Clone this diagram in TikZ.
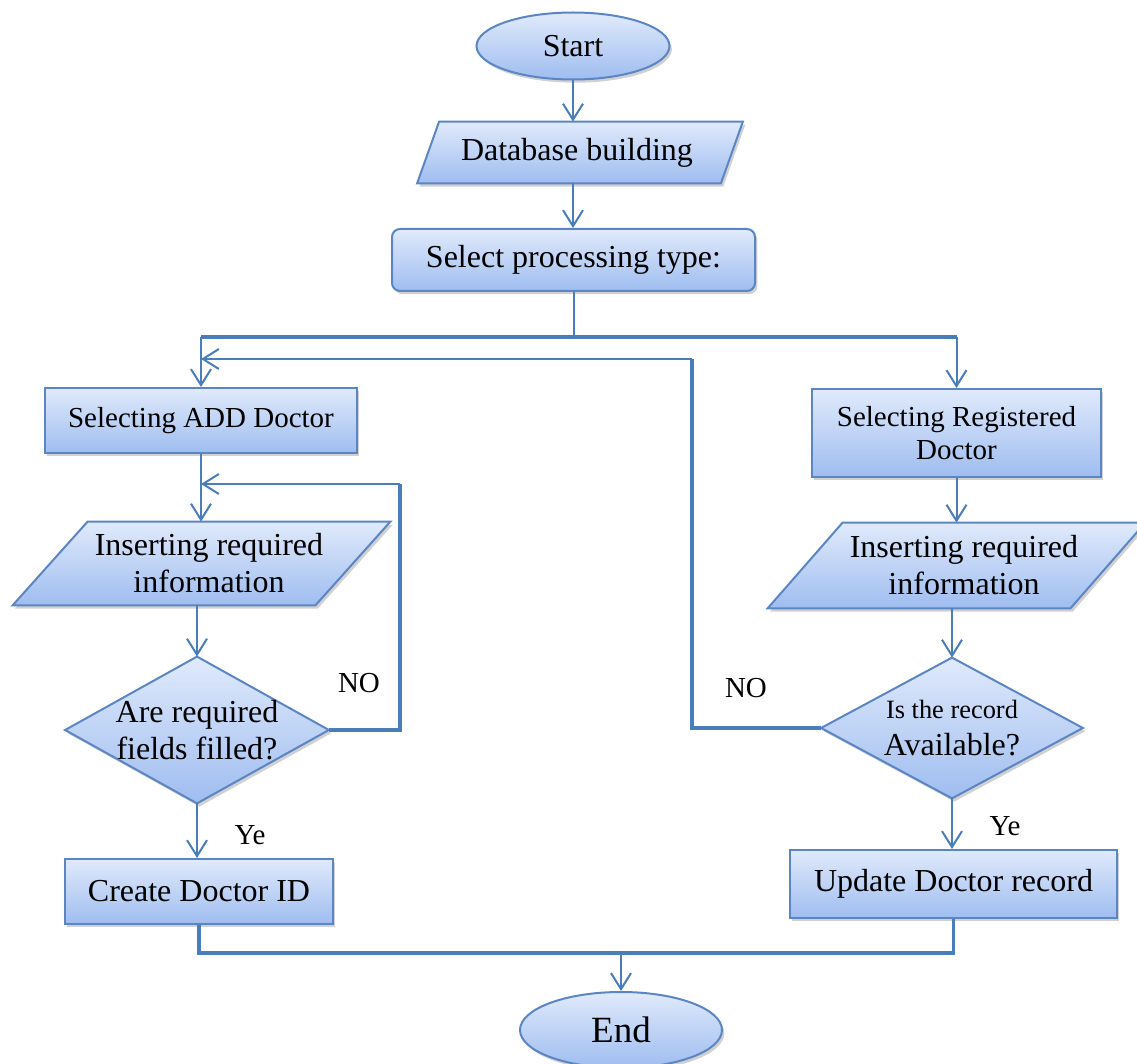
\documentclass[tikz,border=0pt]{standalone}
\usepackage{fontspec}
\setmainfont{Liberation Serif}
\usetikzlibrary{shapes.geometric,arrows.meta,calc,shadows}

\definecolor{edge}{HTML}{4A7EBB}
\definecolor{rim}{HTML}{5B86C3}
\definecolor{filltop}{HTML}{E0EAFB}
\definecolor{fillbot}{HTML}{9FBDF0}

\pgfdeclarelayer{background}
\pgfsetlayers{background,main}

\tikzset{
  boxfill/.style={draw=rim, line width=1pt, top color=filltop, bottom color=fillbot,
    drop shadow={shadow xshift=1.2pt, shadow yshift=-1.6pt, opacity=0.3, fill=black!60}},
  txt/.style={font=\fontsize{16}{18.5}\selectfont, align=center, inner sep=0pt},
  smalltxt/.style={font=\fontsize{14.5}{16.5}\selectfont},
  procbox/.style={boxfill, rectangle, txt},
  termbox/.style={boxfill, ellipse, txt},
  holder/.style={rectangle, txt},
  conn/.style={draw=edge, line width=1pt},
  arr/.style={conn, -{Straight Barb[length=8pt,width=10pt]}},
  bus/.style={draw=edge, line width=1.6pt},
  lbl/.style={font=\fontsize{14.5}{16}\selectfont, inner sep=0pt}
}

% slanted input/output outline around a holder node;
% #2 = half of the slant, #3 = horizontal offset of the outline from the text
\newcommand{\slantoutline}[3]{%
  \path[boxfill] ($(#1.north west)+(#2+#3,0)$) -- ($(#1.north east)+(#2+#3,0)$)
    -- ($(#1.south east)+(-#2+#3,0)$) -- ($(#1.south west)+(-#2+#3,0)$) -- cycle;}
% decision outline around a holder node
\newcommand{\decisionoutline}[1]{%
  \path[boxfill] (#1.north) -- (#1.east) -- (#1.south) -- (#1.west) -- cycle;}

\begin{document}
\begin{tikzpicture}[x=0.5pt,y=-0.5pt]
\useasboundingbox (0,0) rectangle (1137,1064);

% main column
\node[termbox, minimum width=96.5pt, minimum height=33.5pt] (start) at (573,46) {Start};
\node[holder, minimum width=151.5pt, minimum height=30.5pt] (db) at (577,152.5) {Database building};
\node[procbox, rounded corners=4pt, minimum width=181.5pt, minimum height=31pt] (sel) at (573.5,260) {Select processing type:};

% left branch: new doctor
\node[procbox, smalltxt, minimum width=156pt, minimum height=32.5pt] (add) at (201,420.5) {Selecting ADD Doctor};
\node[holder, minimum width=151pt, minimum height=41.5pt] (insA) at (209,563.5) {Inserting required\\information};
\node[holder, minimum width=131.5pt, minimum height=73pt] (qA) at (197,730) {Are required\\fields filled?};
\node[procbox, minimum width=134pt, minimum height=32.5pt] (create) at (199,891.5) {Create Doctor ID};

% right branch: registered doctor
\node[procbox, smalltxt, minimum width=144.5pt, minimum height=44pt] (reg) at (956.5,433) {Selecting Registered\\Doctor};
\node[holder, minimum width=151pt, minimum height=42.5pt] (insB) at (964,565.5) {Inserting required\\information};
\node[holder, minimum width=130.5pt, minimum height=70pt] (qB) at (952,728) {{\fontsize{13.2}{18.5}\selectfont Is the record}\\Available?};
\node[procbox, minimum width=163.5pt, minimum height=34pt] (upd) at (953.5,884) {Update Doctor record};

\node[termbox, font=\fontsize{18.5}{20}\selectfont, minimum width=101pt, minimum height=38pt] (end) at (621,1030) {End};

\begin{pgfonlayer}{background}
  \slantoutline{db}{11}{3}
  \slantoutline{insA}{37.5}{-7.5}
  \slantoutline{insB}{37.5}{-7.5}
  \decisionoutline{qA}
  \decisionoutline{qB}
\end{pgfonlayer}

% connectors
\draw[arr] (start.south) -- (start.south |- db.north);
\draw[arr] (start.south |- db.south) -- (start.south |- sel.north);
\coordinate (fork) at (573.5,337);
\draw[conn] (sel.south) -- (fork);
\draw[bus] (add.north |- fork) -- (reg.north |- fork);
\draw[arr] (add.north |- fork) -- (add.north);
\draw[arr] (reg.north |- fork) -- (reg.north);

\draw[arr] (add.south) -- (add.south |- insA.north);
\draw[arr] (qA.north |- insA.south) -- (qA.north);
\draw[arr] (qA.south) -- (qA.south |- create.north);

\draw[arr] (reg.south) -- (reg.south |- insB.north);
\draw[arr] (qB.north |- insB.south) -- (qB.north);
\draw[arr] (qB.south) -- (qB.south |- upd.north);

% "no" loops back
\coordinate (loopA) at (400,484);
\draw[bus] (qA.east) -| (loopA);
\draw[arr] (loopA) -- (add.south |- loopA);
\coordinate (loopB) at (692,359);
\draw[bus] (qB.west) -| (loopB);
\draw[arr] (loopB) -- (add.north |- loopB);

% merge to end
\coordinate (join) at (621,953);
\draw[bus] (create.south) |- (join) -| (upd.south);
\draw[arr] (join) -- (end.north);

% branch labels
\node[lbl] (noA) at (359,683) {NO};
\node[lbl] (noB) at (746,688) {NO};
\node[lbl] (yeA) at (250,835) {Ye};
\node[lbl] (yeB) at (1005,826) {Ye};
\end{tikzpicture}
\end{document}
